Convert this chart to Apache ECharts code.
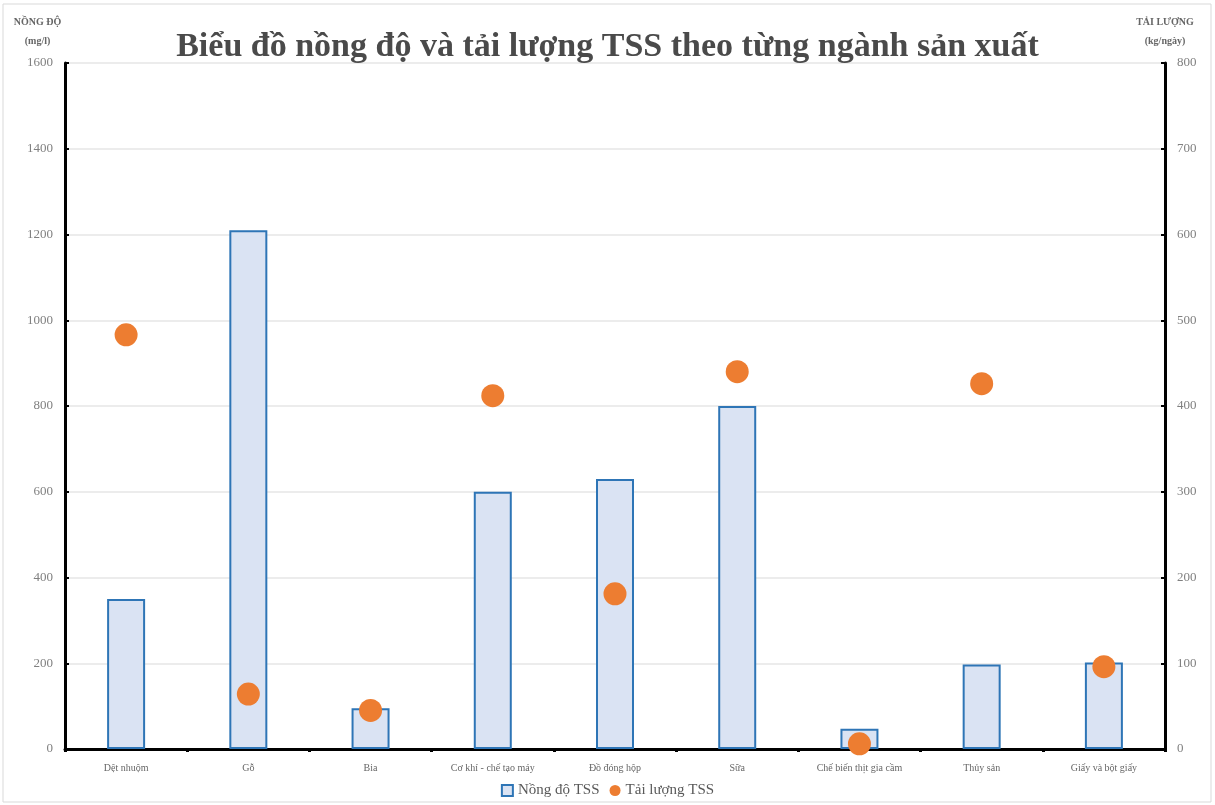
<!DOCTYPE html>
<html>
<head>
<meta charset="utf-8">
<script src="https://cdn.jsdelivr.net/npm/echarts@6/dist/echarts.min.js"></script>
<style>
html,body{margin:0;padding:0;background:#fff;}
#chart{width:1215px;height:805px;}
</style>
</head>
<body>
<div id="chart"></div>
<script>
// Categories (production sectors)
const categories = ['Dệt nhuộm', 'Gỗ', 'Bia', 'Cơ khí - chế tạo máy', 'Đồ đóng hộp', 'Sữa', 'Chế biến thịt gia cầm', 'Thủy sản', 'Giấy và bột giấy'];
// TSS concentration (mg/l) – left axis
const concentration = [350, 1210, 95, 600, 630, 800, 47, 197, 202];
// TSS load (kg/ngày) – right axis
const load = [483, 64, 45, 412, 181, 440, 6, 426, 96];
// Axis ranges
const leftMax = 1600, leftStep = 200;
const rightMax = 800, rightStep = 100;

const serif = '"Liberation Serif", "DejaVu Serif", serif';
const plain = v => String(v);
const chart = echarts.init(document.getElementById('chart'));
chart.setOption({
  backgroundColor: '#fff',
  animation: false,
  title: {
    text: 'Biểu đồ nồng độ và tải lượng TSS theo từng ngành sản xuất',
    left: 'center',
    top: 25,
    textStyle: { fontFamily: serif, fontWeight: 'bold', fontSize: 34, color: '#4a4a4a' }
  },
  graphic: [{
    type: 'rect',
    shape: { x: 3, y: 4, width: 1208, height: 798 },
    style: { fill: 'none', stroke: '#d9d9d9', lineWidth: 1 },
    silent: true
  }],
  legend: {
    bottom: 2,
    left: 'center',
    itemGap: 10,
    itemWidth: 11,
    itemHeight: 11,
    textStyle: { fontFamily: serif, fontSize: 15, color: '#595959' },
    data: [
      { name: 'Nồng độ TSS', icon: 'rect' },
      { name: 'Tải lượng TSS', icon: 'circle' }
    ]
  },
  grid: { left: 65, right: 50, top: 63, bottom: 56 },
  xAxis: {
    type: 'category',
    data: categories,
    axisLine: { lineStyle: { color: '#000', width: 3 } },
    axisTick: { show: true, alignWithLabel: false, length: 3, lineStyle: { color: '#000', width: 3 } },
    axisLabel: { fontFamily: serif, fontSize: 10, color: '#666', margin: 14, interval: 0 }
  },
  yAxis: [
    {
      type: 'value',
      min: 0, max: leftMax, interval: leftStep,
      name: 'NỒNG ĐỘ\n(mg/l)',
      nameLocation: 'end',
      nameGap: 12,
      nameTextStyle: { fontFamily: serif, fontWeight: 'bold', fontSize: 10, lineHeight: 19, color: '#666', align: 'center', padding: [0, 0, 0, -55] },
      axisLine: { show: true, lineStyle: { color: '#000', width: 3 } },
      axisTick: { show: true, inside: true, length: 4, lineStyle: { color: '#000', width: 2 } },
      axisLabel: { fontFamily: serif, fontSize: 13, color: '#808080', margin: 12, formatter: plain },
      splitLine: { show: true, lineStyle: { color: '#e6e6e6', width: 1.5 } }
    },
    {
      type: 'value',
      min: 0, max: rightMax, interval: rightStep,
      name: 'TẢI LƯỢNG\n(kg/ngày)',
      nameLocation: 'end',
      nameGap: 12,
      nameTextStyle: { fontFamily: serif, fontWeight: 'bold', fontSize: 10, lineHeight: 19, color: '#666', align: 'center' },
      axisLine: { show: true, lineStyle: { color: '#000', width: 3 } },
      axisTick: { show: true, inside: true, length: 4, lineStyle: { color: '#000', width: 2 } },
      axisLabel: { fontFamily: serif, fontSize: 13, color: '#808080', margin: 12, formatter: plain },
      splitLine: { show: false }
    }
  ],
  series: [
    {
      name: 'Nồng độ TSS',
      type: 'bar',
      yAxisIndex: 0,
      data: concentration,
      barWidth: 38,
      itemStyle: { color: '#dae3f3', borderColor: '#2e75b6', borderWidth: 2 }
    },
    {
      name: 'Tải lượng TSS',
      type: 'scatter',
      yAxisIndex: 1,
      data: load,
      symbol: 'circle',
      symbolSize: 23,
      itemStyle: { color: '#ed7d31', opacity: 1 }
    }
  ]
});
</script>
</body>
</html>
